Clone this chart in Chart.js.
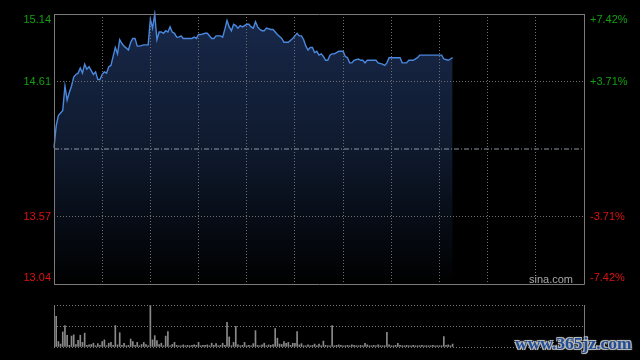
<!DOCTYPE html>
<html><head><meta charset="utf-8">
<script src="https://cdn.jsdelivr.net/npm/chart.js@4.4.1/dist/chart.umd.min.js"></script>
<style>
html,body{margin:0;padding:0;background:#000;width:640px;height:360px;overflow:hidden}
#wrap{position:relative;width:640px;height:360px;background:#000}
#c1{position:absolute;left:0;top:0}
#c2{position:absolute;left:0;top:290px}
#wm{position:absolute;left:515px;top:333px;font:bold 17.5px "Liberation Serif","DejaVu Serif",serif;color:#1f4d96;letter-spacing:0px;
text-shadow:1px 1px 0 #b8b8b8,-1px -1px 0 #b8b8b8,1px -1px 0 #b8b8b8,-1px 1px 0 #b8b8b8,0 0 3px #aaa;white-space:nowrap}
</style></head><body>
<div id="wrap">
<canvas id="c1" width="640" height="290"></canvas>
<canvas id="c2" width="640" height="70"></canvas>
<div id="wm">www.365jz.com</div>
</div>
<script>
// ---- data ----
const prevClose = 14.09;
const minuteIdx = [0,1,2,3,4,5,6,7,8,9,
10,11,12,13,14,15,16,17,18,19,
20,21,22,23,24,25,26,27,28,29,
30,31,32,34,35,36,37,38,39,41,
43,44,45,46,47,48,49,50,51,52,
53,54,55,56,57,58,59,61,63,64,
65,66,67,69,70,72,73,74,76,77,
78,79,80,81,82,83,84,85,86,88,
89,90,91,92,93,94,95,96,97,99,
100,101,102,104,105,107,109,110,111,112,
113,114,115,116,117,118,119,120,121,122,
123,124,125,126,127,128,129,130,132,133,
134,135,136,137,139,140,141,142,143,145,
146,147,148,150,151,152,153,156,158,159,
160,161,162,164,166,167,170,174,177,178,
180,181,182];
const prices = [14.10,14.27,14.35,14.37,14.39,14.58,14.47,14.53,14.58,14.65,
14.67,14.68,14.72,14.68,14.75,14.71,14.73,14.70,14.67,14.69,
14.63,14.63,14.67,14.69,14.68,14.73,14.74,14.81,14.88,14.83,
14.94,14.91,14.89,14.86,14.92,14.95,14.95,14.89,14.89,14.90,
14.90,15.10,15.03,15.14,14.94,15.00,15.00,14.99,15.01,15.00,
15.04,15.00,14.99,14.96,14.96,14.97,14.95,14.95,14.95,14.96,
14.95,14.98,14.98,14.99,14.99,14.95,14.95,14.97,14.97,14.96,
15.02,15.09,15.04,15.01,15.06,15.05,15.03,15.05,15.04,15.06,
15.06,15.04,15.03,15.08,15.04,15.02,15.01,15.01,15.03,15.02,
15.02,15.00,14.98,14.95,14.92,14.92,14.95,14.97,14.99,14.97,
14.97,14.94,14.89,14.86,14.88,14.88,14.84,14.85,14.82,14.83,
14.81,14.78,14.78,14.82,14.83,14.83,14.84,14.85,14.85,14.81,
14.80,14.76,14.76,14.78,14.79,14.78,14.78,14.76,14.78,14.78,
14.78,14.78,14.76,14.75,14.74,14.76,14.80,14.80,14.80,14.76,
14.76,14.76,14.78,14.78,14.80,14.82,14.82,14.82,14.82,14.79,
14.78,14.79,14.80];
// volume per minute, minute index = position
const volumes = [44,73,13,7,36,51,28,4,26,29,
6,16,28,11,33,4,5,6,9,3,
8,4,13,17,3,9,11,4,51,5,
34,4,9,3,4,19,13,4,11,3,
6,11,6,3,100,17,27,15,6,9,
3,26,37,3,6,11,4,3,3,5,
3,4,3,4,5,4,11,3,4,4,
5,3,9,4,8,3,4,9,4,59,
24,3,11,49,5,3,4,11,3,4,
3,8,39,4,3,5,9,3,5,4,
6,44,21,7,6,13,9,11,4,9,
9,37,5,8,3,3,5,3,4,7,
3,7,3,14,4,3,3,51,3,4,
5,4,3,3,4,3,5,4,3,3,
4,3,9,5,3,3,4,3,5,3,
3,3,35,5,3,3,4,9,4,3,
3,4,3,3,4,3,3,3,4,3,
3,3,3,4,3,3,3,3,25,4,
5,3,7];
const priceTicks = [13.04, 13.565, 14.09, 14.615, 15.14];
const priceLabels = ['13.04','13.57','','14.61','15.14'];
const pctLabels = ['-7.42%','-3.71%','','+3.71%','+7.42%'];
const timeGrid = [0,22,44,66,88,110,132,154,176,198,220,242];
const volTicks = [0,50,100];

const GREEN = '#12a012', RED = '#dd1111';
const FONT = '11px "Liberation Sans", Arial, sans-serif';

const framePlugin = {
  id:'frame',
  afterDraw(chart){
    const {ctx, chartArea:a} = chart;
    ctx.save();
    ctx.strokeStyle = '#7a7a7a'; ctx.lineWidth = 1;
    ctx.beginPath();
    if (chart.options.plugins.frame.full){
      ctx.rect(a.left+0.5, a.top+0.5, a.right-a.left, a.bottom-a.top);
    } else {
      ctx.moveTo(a.left+0.5, a.top); ctx.lineTo(a.left+0.5, a.bottom+1);
      ctx.moveTo(a.right+0.5, a.top); ctx.lineTo(a.right+0.5, a.bottom+1);
    }
    ctx.stroke();
    ctx.restore();
  }
};
const labelPlugin = {
  id:'labels',
  afterDraw(chart){
    const {ctx, chartArea:a} = chart;
    const ys = chart.scales.y;
    ctx.save();
    ctx.font = FONT;
    ctx.textBaseline = 'middle';
    priceTicks.forEach((v,i)=>{
      if(!priceLabels[i]) return;
      let py = ys.getPixelForValue(v);
      py = Math.min(Math.max(py, a.top+6), a.bottom-6);
      ctx.fillStyle = v > prevClose ? GREEN : RED;
      ctx.textAlign = 'right';
      ctx.fillText(priceLabels[i], a.left-3, py);
      ctx.textAlign = 'left';
      ctx.fillText(pctLabels[i], a.right+6, py);
    });
    ctx.fillStyle = '#a8a8a8';
    ctx.textAlign = 'right';
    ctx.textBaseline = 'alphabetic';
    ctx.font = '11px "Liberation Sans", Arial, sans-serif';
    ctx.fillText('sina.com', a.right-11, a.bottom-1.5);
    ctx.restore();
  }
};

new Chart(document.getElementById('c1'), {
  type:'line',
  data:{
    datasets:[
      {
        label:'昨收',
        data:[{x:0,y:prevClose},{x:242,y:prevClose}],
        borderColor:'#8e98a4', borderWidth:1, borderDash:[5,2,1,2],
        pointRadius:0, fill:false, order:0
      },
      {
        label:'价格',
        data: minuteIdx.map((m,i)=>({x:m,y:prices[i]})),
        borderColor:'#4a88de', borderWidth:1.4,
        pointRadius:0, tension:0, order:1, clip:4,
        fill:'start',
        backgroundColor(ctx){
          const a = ctx.chart.chartArea;
          if(!a) return 'rgba(20,35,65,1)';
          const g = ctx.chart.ctx.createLinearGradient(0,a.top,0,a.bottom);
          g.addColorStop(0,'rgba(24,40,74,1)');
          g.addColorStop(0.5,'rgba(15,26,46,1)');
          g.addColorStop(1,'rgba(0,0,0,1)');
          return g;
        }
      }
    ]
  },
  options:{
    responsive:false, animation:false,
    layout:{padding:{left:54,right:56,top:14,bottom:6}},
    plugins:{legend:{display:false},tooltip:{enabled:false},frame:{full:true}},
    scales:{
      x:{type:'linear',min:0,max:242,
        afterBuildTicks(s){ s.ticks = timeGrid.map(v=>({value:v})); },
        ticks:{display:false},
        grid:{drawTicks:false,color:'#6f6f6f',z:1},
        border:{display:false,dash:[1,2]}},
      y:{type:'linear',min:13.04,max:15.14,
        afterBuildTicks(s){ s.ticks = priceTicks.map(v=>({value:v})); },
        ticks:{display:false},
        grid:{drawTicks:false,z:1,color(c){ return (c.tick && c.tick.value===prevClose) ? 'rgba(0,0,0,0)' : '#6f6f6f'; }},
        border:{display:false,dash:[1,2]}}
    }
  },
  plugins:[framePlugin,labelPlugin]
});

new Chart(document.getElementById('c2'), {
  type:'bar',
  data:{
    datasets:[{
      label:'成交量',
      data: volumes.map((v,i)=>({x:i,y:v})),
      backgroundColor:'#8a8a8a',
      barThickness:1
    }]
  },
  options:{
    responsive:false, animation:false,
    layout:{padding:{left:54,right:56,top:15,bottom:5}},
    plugins:{legend:{display:false},tooltip:{enabled:false},frame:{full:false}},
    scales:{
      x:{type:'linear',min:0,max:242,offset:false,
        ticks:{display:false},grid:{display:false},border:{display:false}},
      y:{type:'linear',min:0,max:100,
        afterBuildTicks(s){ s.ticks = volTicks.map(v=>({value:v})); },
        ticks:{display:false},
        grid:{drawTicks:false,color:'#7a7a7a',z:1},
        border:{display:false,dash:[1,2]}}
    }
  },
  plugins:[framePlugin]
});
</script>
</body></html>
